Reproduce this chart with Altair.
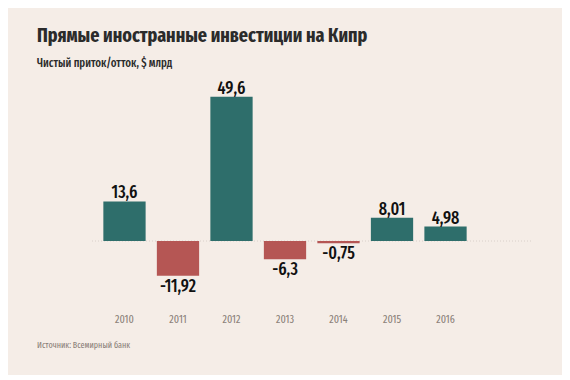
import altair as alt
import pandas as pd

years = ["2010", "2011", "2012", "2013", "2014", "2015", "2016"]
values = [13.6, -11.92, 49.6, -6.3, -0.75, 8.01, 4.98]
labels = ["13,6", "-11,92", "49,6", "-6,3", "-0,75", "8,01", "4,98"]

title_text = "Прямые иностранные инвестиции на Кипр"
subtitle_text = "Чистый приток/отток, $ млрд"
source_text = "Источник: Всемирный банк"

df = pd.DataFrame({"year": years, "value": values, "label": labels})
df["sign"] = ["pos" if v >= 0 else "neg" for v in values]

FONT = "Fira Sans Extra Condensed, Fira Sans Condensed, sans-serif"
W = 374
H = 224
ydom = [-22, 55]

x = alt.X("year:N", sort=years, title=None,
          scale=alt.Scale(paddingInner=0.21, paddingOuter=0.1),
          axis=alt.Axis(labelAngle=0, ticks=False, domain=False, labelPadding=8,
                        labelFont=FONT, labelFontSize=11, labelColor="#8a7f78"))
y = alt.Y("value:Q", scale=alt.Scale(domain=ydom, nice=False, zero=False),
          axis=None)

base = alt.Chart(df)

zero = alt.Chart(pd.DataFrame({"z": [0]})).mark_rule(
    color="#d9d0ca", strokeDash=[1, 2], strokeWidth=1
).encode(y=alt.Y("z:Q", scale=alt.Scale(domain=ydom, nice=False, zero=False), axis=None),
         x=alt.value(-6), x2=alt.value(W + 60))

bars = base.mark_bar().encode(
    x=x, y=y, y2=alt.datum(0),
    color=alt.Color("sign:N", scale=alt.Scale(domain=["pos", "neg"], range=["#2e6e6b", "#b55654"]), legend=None),
)

pos_text = base.transform_filter("datum.value >= 0").mark_text(
    baseline="alphabetic", dy=-3, font=FONT, fontSize=17.5, fontWeight=500, color="#111"
).encode(x=x, y=y, text="label:N")

neg_text = base.transform_filter("datum.value < 0").mark_text(
    baseline="alphabetic", dy=16, font=FONT, fontSize=17.5, fontWeight=500, color="#111"
).encode(x=x, y=y, text="label:N")

def label(txt, px, py, size, weight, color):
    return alt.Chart(pd.DataFrame({"t": [txt]})).mark_text(
        align="left", baseline="alphabetic", font=FONT, fontSize=size, fontWeight=weight, color=color
    ).encode(text="t:N", x=alt.value(px), y=alt.value(py))

title = label(title_text, -61, -39, 19.6, "bold", "#2b2b2b")
subtitle = label(subtitle_text, -61, -14, 11.8, 500, "#2b2b2b")
source = label(source_text, -61, 267, 8.8, "normal", "#8a7f78")

chart = alt.layer(zero, bars, pos_text, neg_text, title, subtitle, source).properties(
    width=W, height=H,
    background="#f5ede7",
    padding={"left": 90, "top": 73, "right": 90, "bottom": 70},
    autosize=alt.AutoSizeParams(type="none"),
).configure_view(stroke=None)

chart.save("out.html", embed_options={"renderer": "svg", "actions": False})
